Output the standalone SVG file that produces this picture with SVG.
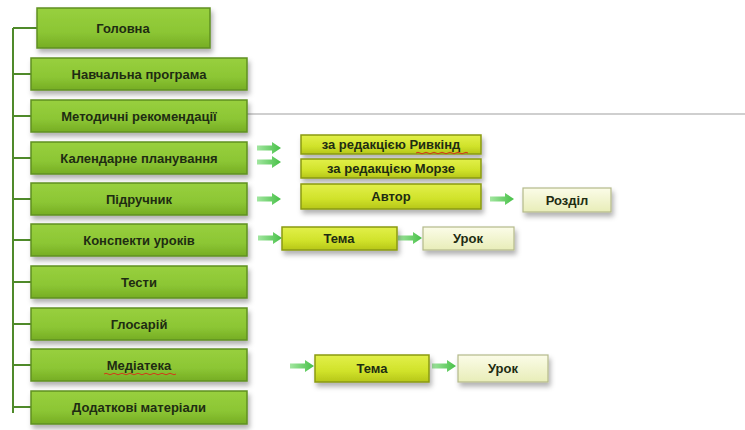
<svg xmlns="http://www.w3.org/2000/svg" width="745" height="430" viewBox="0 0 745 430">
<style>
.m{fill:url(#gm);stroke:#5f9020;stroke-width:1.5;filter:url(#sh)}
.s{fill:url(#gs);stroke:#8a9a10;stroke-width:1.5;filter:url(#sh)}
.l{fill:url(#gl);stroke:#b4b98a;stroke-width:1.2;filter:url(#sh)}
text{font-family:"Liberation Sans",Arial,sans-serif;font-size:13px;font-weight:bold;fill:#1e2c12;text-anchor:middle;dominant-baseline:central}
.tree{stroke:#4f8a2a;stroke-width:2;fill:none}
.sq{stroke:#d23a1a;stroke-width:1;fill:none}
</style>
<defs>
<linearGradient id="gm" x1="0" y1="0" x2="0" y2="1"><stop offset="0" stop-color="#98d03e"/><stop offset="0.6" stop-color="#8cc634"/><stop offset="1" stop-color="#76ad24"/></linearGradient>
<linearGradient id="gs" x1="0" y1="0" x2="0" y2="1"><stop offset="0" stop-color="#e2f04a"/><stop offset="0.6" stop-color="#d0e22a"/><stop offset="1" stop-color="#b6c618"/></linearGradient>
<linearGradient id="gl" x1="0" y1="0" x2="0" y2="1"><stop offset="0" stop-color="#fbfce8"/><stop offset="1" stop-color="#e8edb8"/></linearGradient>
<linearGradient id="ga" x1="0" y1="0" x2="1" y2="0"><stop offset="0" stop-color="#a2e6a0"/><stop offset="1" stop-color="#46c046"/></linearGradient>
<filter id="sh" x="-10%" y="-20%" width="125%" height="170%"><feDropShadow dx="2" dy="4" stdDeviation="2.5" flood-color="#000" flood-opacity="0.3"/></filter>
<path id="arr" d="M0,-2.5 H15 V-6 L24,0 L15,6 V2.5 H0 Z" fill="url(#ga)"/>
</defs>
<g id="connectors">
<path class="tree" d="M13,28 V413 M13,28 H38 M13,74 H31 M13,116 H31 M13,158 H31 M13,199 H31 M13,240 H31 M13,282 H31 M13,324 H31 M13,365 H31 M13,407 H31"/>
<line x1="247" y1="114" x2="745" y2="114" stroke="#a0a0a0" stroke-width="1.2"/>
<use href="#arr" transform="translate(257,148)"/>
<use href="#arr" transform="translate(257,162)"/>
<use href="#arr" transform="translate(257,199)"/>
<use href="#arr" transform="translate(490,199)"/>
<use href="#arr" transform="translate(258,238)"/>
<use href="#arr" transform="translate(398,238)"/>
<use href="#arr" transform="translate(290,366)"/>
<use href="#arr" transform="translate(432,366)"/>
</g>
<g id="n-golovna"><rect class="m" x="37" y="8" width="173" height="40"/><text x="123" y="28">Головна</text></g>
<g id="n-navch"><rect class="m" x="31" y="58" width="216" height="32"/><text x="139" y="74">Навчальна програма</text></g>
<g id="n-metod"><rect class="m" x="31" y="100" width="216" height="32"/><text x="139" y="116">Методичні рекомендації</text></g>
<g id="n-kalend"><rect class="m" x="31" y="142" width="216" height="32"/><text x="139" y="158">Календарне планування</text></g>
<g id="n-pidr"><rect class="m" x="31" y="183" width="216" height="32"/><text x="139" y="199">Підручник</text></g>
<g id="n-konsp"><rect class="m" x="31" y="224" width="216" height="32"/><text x="139" y="240">Конспекти уроків</text></g>
<g id="n-testy"><rect class="m" x="31" y="266" width="216" height="32"/><text x="139" y="282">Тести</text></g>
<g id="n-glos"><rect class="m" x="31" y="308" width="216" height="32"/><text x="139" y="324">Глосарій</text></g>
<g id="n-media"><rect class="m" x="31" y="349" width="216" height="32"/><text x="139" y="365">Медіатека</text><path class="sq" d="M104,374 q2,-1.5 4,0 t4,0 t4,0 t4,0 t4,0 t4,0 t4,0 t4,0 t4,0 t4,0 t4,0 t4,0 t4,0 t4,0 t4,0 t4,0 t4,0 t4,0"/></g>
<g id="n-dodat"><rect class="m" x="31" y="391" width="216" height="33"/><text x="139" y="407">Додаткові матеріали</text></g>
<g id="n-ryvkind"><rect class="s" x="301" y="135" width="180" height="19"/><text x="391" y="144.5">за редакцією Ривкінд</text><path class="sq" d="M416,153 q2,-1.5 4,0 t4,0 t4,0 t4,0 t4,0 t4,0 t4,0 t4,0 t4,0 t4,0 t4,0 t4,0 t4,0"/></g>
<g id="n-morze"><rect class="s" x="301" y="159" width="180" height="19"/><text x="391" y="168.5">за редакцією Морзе</text></g>
<g id="n-avtor"><rect class="s" x="301" y="184" width="180" height="25"/><text x="391" y="196.5">Автор</text></g>
<g id="n-rozdil"><rect class="l" x="523" y="188" width="88" height="24"/><text x="567" y="200">Розділ</text></g>
<g id="n-tema1"><rect class="s" x="282" y="227" width="115" height="23"/><text x="339" y="238.5">Тема</text></g>
<g id="n-urok1"><rect class="l" x="423" y="227" width="91" height="23"/><text x="468" y="238.5">Урок</text></g>
<g id="n-tema2"><rect class="s" x="315" y="355" width="114" height="27"/><text x="372" y="368.5">Тема</text></g>
<g id="n-urok2"><rect class="l" x="458" y="355" width="90" height="27"/><text x="503" y="368.5">Урок</text></g>
</svg>
